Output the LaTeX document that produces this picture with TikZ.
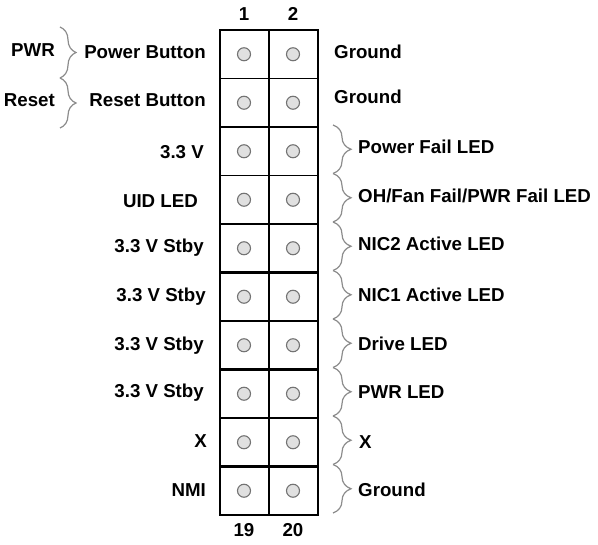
\documentclass[tikz,border=0pt]{standalone}
\usepackage{fontspec}
\setmainfont{Liberation Sans}
\usetikzlibrary{decorations.pathreplacing}

\begin{document}
\begin{tikzpicture}[x=1pt,y=-1pt,
    pin/.style={circle,draw=black!55,fill=black!12,line width=1.1pt,minimum size=13pt,inner sep=0pt},
    lbl/.style={font=\fontsize{18.7}{21}\selectfont\bfseries,inner sep=0pt},
    brc/.style={draw=black!45,line width=1.2pt,decorate,decoration={brace,amplitude=18pt}},
    thin line/.style={line width=1.2pt},
    thick line/.style={line width=2.6pt}]
  \useasboundingbox (0,0) rectangle (598,545);
  % pins
  \foreach \r in {1,...,10} {
    \pgfmathsetmacro\yc{30+48.5*(\r-0.5)}
    \pgfmathtruncatemacro\a{2*\r-1}
    \pgfmathtruncatemacro\b{2*\r}
    \node[pin] (p\a) at (244,\yc) {};
    \node[pin] (p\b) at (293,\yc) {};
  }
  % grid
  \foreach \i in {1,3,6,8}
    \draw[thin line] (220,{30+48.5*\i}) -- (318,{30+48.5*\i});
  \foreach \i in {2,4,5,7,9}
    \draw[thick line] (220,{30+48.5*\i}) -- (318,{30+48.5*\i});
  \draw[thin line] (269,30) -- (269,515);
  \draw[thick line] (220,30) rectangle (318,515);
  % pin numbers
  \node[lbl] (n1) at (244,14) {1};
  \node[lbl] (n2) at (293,14) {2};
  \node[lbl] (n19) at (244,530) {19};
  \node[lbl] (n20) at (293,530) {20};
  % left side
  \node[lbl,anchor=east] (l1) at (206,52) {Power Button};
  \node[lbl,anchor=east] (l2) at (206,100) {Reset Button};
  \node[lbl,anchor=east] (l3) at (204,152) {3.3 V};
  \node[lbl,anchor=east] (l4) at (198,201) {UID LED};
  \node[lbl,anchor=east] (l5) at (204,248) {3.3 V Stby};
  \node[lbl,anchor=east] (l6) at (206,297) {3.3 V Stby};
  \node[lbl,anchor=east] (l7) at (204,346) {3.3 V Stby};
  \node[lbl,anchor=east] (l8) at (204,393) {3.3 V Stby};
  \node[lbl,anchor=east] (l9) at (207,441) {X};
  \node[lbl,anchor=east] (l10) at (206,490) {NMI};
  \node[lbl,anchor=east] (pwr) at (55,50) {PWR};
  \node[lbl,anchor=east] (rst) at (55,100) {Reset};
  \coordinate (lb0) at (60,27);
  \coordinate (lb1) at (60,78);
  \coordinate (lb2) at (60,128);
  \draw[brc,decoration={amplitude=16pt}] (lb0) -- (lb1);
  \draw[brc,decoration={amplitude=16pt}] (lb1) -- (lb2);
  % right side
  \node[lbl,anchor=west] (r1) at (334,52) {Ground};
  \node[lbl,anchor=west] (r2) at (334,97) {Ground};
  \node[lbl,anchor=west] (r3) at (358,147) {Power Fail LED};
  \node[lbl,anchor=west] (r4) at (358,196) {OH/Fan Fail/PWR Fail LED};
  \node[lbl,anchor=west] (r5) at (358,244) {NIC2 Active LED};
  \node[lbl,anchor=west] (r6) at (358,295) {NIC1 Active LED};
  \node[lbl,anchor=west] (r7) at (358,344) {Drive LED};
  \node[lbl,anchor=west] (r8) at (358,392) {PWR LED};
  \node[lbl,anchor=west] (r9) at (359,442) {X};
  \node[lbl,anchor=west] (r10) at (358,490) {Ground};
  \foreach \i in {2,...,10}
    \coordinate (rb\i) at (333,{30+48.5*\i-2});
  \foreach \i [evaluate=\i as \j using int(\i+1)] in {2,...,9}
    \draw[brc] (rb\i) -- (rb\j);
\end{tikzpicture}
\end{document}
